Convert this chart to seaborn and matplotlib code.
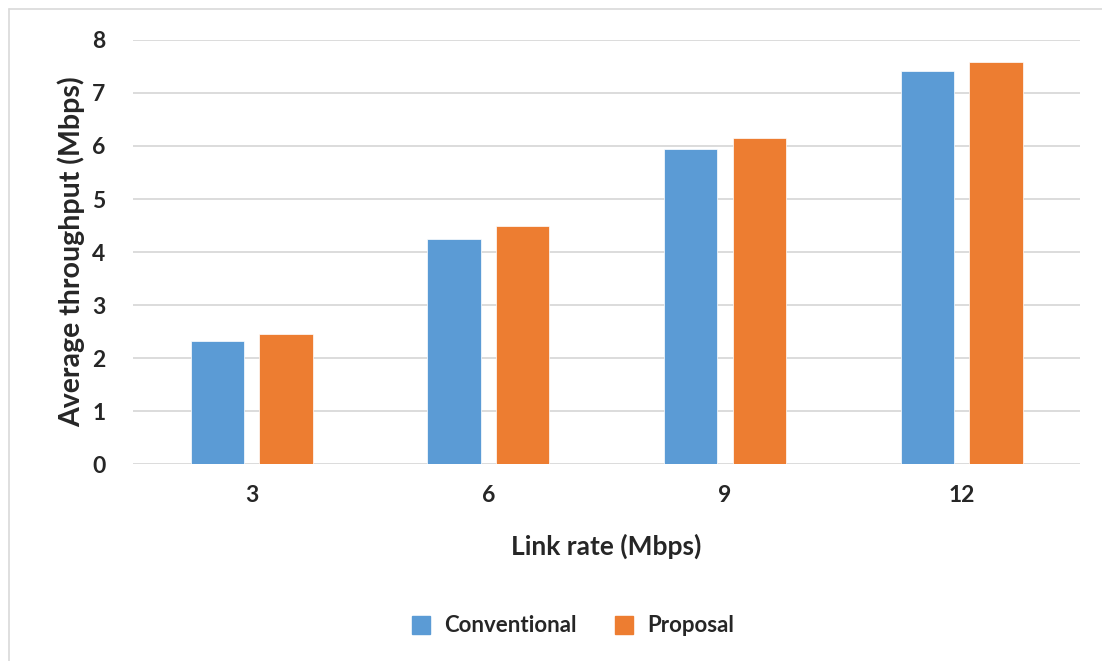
import matplotlib
matplotlib.use("Agg")
import matplotlib.pyplot as plt
import seaborn as sns
import pandas as pd
from matplotlib.lines import Line2D

link_rates = ["3", "6", "9", "12"]
conventional = [2.32, 4.24, 5.94, 7.41]
proposal = [2.45, 4.50, 6.15, 7.58]
series_names = ["Conventional", "Proposal"]
y_ticks = [0, 1, 2, 3, 4, 5, 6, 7, 8]

df = pd.DataFrame({
    "Link rate": link_rates * 2,
    "Throughput": conventional + proposal,
    "Series": [series_names[0]] * len(link_rates) + [series_names[1]] * len(link_rates),
})

sns.set_theme(style="white")
plt.rcParams["font.family"] = ["Lato", "DejaVu Sans"]

fig = plt.figure(figsize=(11.02, 6.61), dpi=100)
ax = fig.add_axes([0.121, 0.298, 0.859, 0.6415])

palette = {"Conventional": "#5B9BD5", "Proposal": "#ED7D31"}
sns.barplot(data=df, x="Link rate", y="Throughput", hue="Series", order=link_rates,
            hue_order=series_names, palette=palette, width=0.58, gap=0.22,
            saturation=1, edgecolor="white", linewidth=0.5, ax=ax, legend=False, zorder=3)

ax.set_xlim(-0.5, 3.5)
ax.set_ylim(0, 8)
ax.set_yticks(y_ticks)
ax.set_yticklabels([str(t) for t in y_ticks], fontsize=16.5, fontweight="bold")
ax.tick_params(axis="x", labelsize=16.5, pad=15)
for lbl in ax.get_xticklabels():
    lbl.set_fontweight("bold")
ax.tick_params(axis="y", pad=20)
ax.tick_params(length=0)
ax.grid(axis="y", color="#D9D9D9", linewidth=1.3, zorder=0)
ax.set_axisbelow(True)
for s in ax.spines.values():
    s.set_visible(False)

ax.set_xlabel("Link rate (Mbps)", fontsize=19, fontweight="bold", labelpad=20)
ax.set_ylabel("Average throughput (Mbps)", fontsize=20.5, fontweight="bold", labelpad=5)

handles = [Line2D([], [], marker="s", linestyle="none", markersize=13,
                  markerfacecolor=palette[n], markeredgecolor=palette[n]) for n in series_names]
fig.legend(handles, series_names, loc="center", bbox_to_anchor=(0.514, 0.053), ncol=2,
           frameon=False, handletextpad=0.05, columnspacing=1.1,
           prop={"size": 16, "weight": "bold"})

# thin frame along the top and left of the chart area
fig.add_artist(Line2D([9 / 1102, 1.0], [1 - 9 / 661, 1 - 9 / 661], color="#D9D9D9", linewidth=1.2))
fig.add_artist(Line2D([9 / 1102, 9 / 1102], [0.0, 1 - 9 / 661], color="#D9D9D9", linewidth=1.2))

fig.savefig("out.png", dpi=100, facecolor="white")
